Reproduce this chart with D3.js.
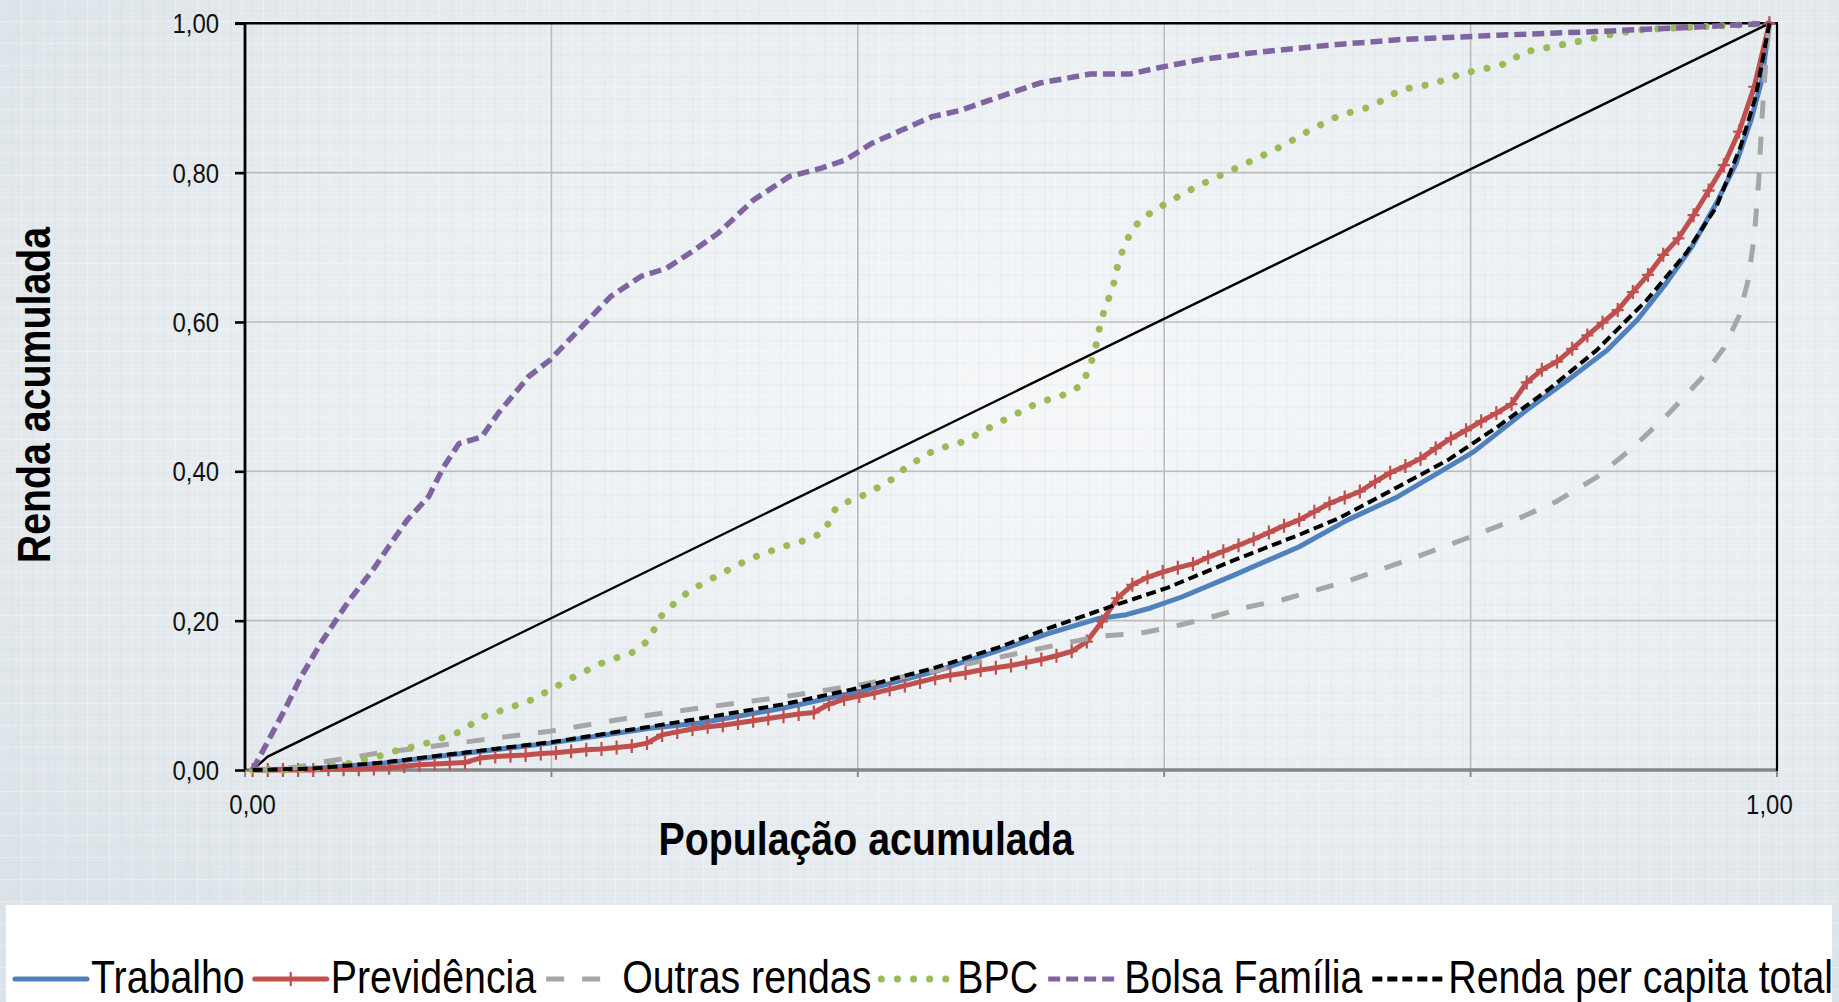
<!DOCTYPE html>
<html><head><meta charset="utf-8">
<script src="https://cdn.jsdelivr.net/npm/d3@7"></script>
<style>html,body{margin:0;padding:0;background:#e4e9ec;overflow:hidden}svg{display:block}</style>
</head><body><svg id="c" width="1839" height="1002"></svg>
<script>
// ---- data (population share, cumulative income share) ----
const seriesNames = ["Trabalho","Previdência","Outras rendas","BPC","Bolsa Família","Renda per capita total"];
const igualdade = [[0,0],[0.01,0.018],[1,1]];
const trabalho = [[0,0],[0.04,0.002],[0.086,0.009],[0.13,0.02],[0.196,0.036],[0.262,0.056],[0.295,0.063],[0.35,0.083],[0.40,0.105],[0.45,0.132],[0.493,0.161],[0.525,0.183],[0.558,0.203],[0.576,0.208],[0.592,0.217],[0.613,0.232],[0.647,0.261],[0.69,0.299],[0.722,0.335],[0.755,0.366],[0.785,0.402],[0.805,0.426],[0.84,0.482],[0.867,0.522],[0.893,0.562],[0.913,0.603],[0.932,0.652],[0.949,0.701],[0.965,0.759],[0.978,0.812],[0.988,0.871],[0.995,0.924],[1,1]];
const previdenciaY = [0,0,0,0,0,0.001,0.001,0.001,0.002,0.003,
  0.005,0.007,0.008,0.009,0.010,0.016,0.018,0.019,0.020,0.022,
  0.023,0.025,0.027,0.028,0.030,0.032,0.036,0.047,0.051,0.055,
  0.058,0.060,0.063,0.066,0.069,0.072,0.075,0.077,0.088,0.095,
  0.099,0.103,0.108,0.113,0.118,0.123,0.127,0.130,0.134,0.137,
  0.140,0.144,0.148,0.153,0.159,0.172,0.199,0.230,0.248,0.258,
  0.265,0.271,0.276,0.285,0.293,0.301,0.309,0.318,0.327,0.335,
  0.346,0.357,0.365,0.373,0.386,0.398,0.407,0.417,0.431,0.444,
  0.455,0.467,0.478,0.490,0.519,0.536,0.547,0.564,0.582,0.599,
  0.616,0.640,0.663,0.690,0.712,0.743,0.776,0.810,0.855,0.915,1.0];
const outras = [[0,0],[0.03,0.004],[0.047,0.011],[0.081,0.022],[0.15,0.040],[0.196,0.052],[0.246,0.069],[0.295,0.083],[0.35,0.098],[0.40,0.114],[0.45,0.133],[0.504,0.156],[0.536,0.170],[0.558,0.179],[0.585,0.183],[0.607,0.192],[0.629,0.203],[0.653,0.217],[0.679,0.228],[0.722,0.253],[0.76,0.280],[0.80,0.310],[0.837,0.339],[0.86,0.360],[0.886,0.392],[0.909,0.430],[0.932,0.474],[0.955,0.524],[0.970,0.565],[0.980,0.608],[0.986,0.656],[0.990,0.714],[0.993,0.790],[0.995,0.870],[0.998,0.960],[1,1]];
const bpc = [[0,0],[0.021,0],[0.042,0.002],[0.064,0.009],[0.084,0.019],[0.095,0.026],[0.115,0.036],[0.135,0.050],[0.153,0.072],[0.173,0.086],[0.184,0.094],[0.194,0.105],[0.212,0.125],[0.231,0.144],[0.251,0.158],[0.260,0.172],[0.265,0.189],[0.270,0.208],[0.278,0.223],[0.288,0.240],[0.308,0.262],[0.328,0.283],[0.348,0.298],[0.368,0.310],[0.377,0.320],[0.385,0.353],[0.405,0.370],[0.423,0.391],[0.431,0.406],[0.450,0.429],[0.469,0.440],[0.489,0.462],[0.517,0.491],[0.537,0.504],[0.547,0.516],[0.551,0.536],[0.555,0.558],[0.558,0.589],[0.562,0.620],[0.566,0.639],[0.569,0.661],[0.571,0.683],[0.575,0.702],[0.579,0.721],[0.586,0.738],[0.595,0.750],[0.604,0.761],[0.622,0.781],[0.642,0.800],[0.661,0.818],[0.680,0.837],[0.698,0.858],[0.717,0.877],[0.737,0.888],[0.757,0.911],[0.778,0.919],[0.798,0.933],[0.819,0.942],[0.829,0.948],[0.837,0.961],[0.857,0.969],[0.880,0.978],[0.900,0.987],[0.919,0.992],[0.952,0.995],[1,1]];
const bolsa = [[0,0],[0.0095,0.036],[0.021,0.080],[0.032,0.125],[0.045,0.170],[0.058,0.210],[0.064,0.228],[0.080,0.270],[0.090,0.300],[0.102,0.335],[0.116,0.366],[0.126,0.406],[0.136,0.437],[0.151,0.446],[0.162,0.478],[0.182,0.527],[0.196,0.549],[0.213,0.585],[0.236,0.634],[0.256,0.661],[0.273,0.672],[0.291,0.696],[0.307,0.719],[0.330,0.763],[0.354,0.795],[0.375,0.806],[0.391,0.817],[0.408,0.839],[0.428,0.857],[0.448,0.875],[0.466,0.883],[0.486,0.897],[0.519,0.920],[0.552,0.932],[0.578,0.932],[0.601,0.942],[0.624,0.951],[0.657,0.960],[0.706,0.970],[0.755,0.978],[0.821,0.984],[0.886,0.989],[0.952,0.995],[1,1]];
const rendaTotal = [[0,0],[0.04,0.002],[0.086,0.010],[0.13,0.021],[0.196,0.037],[0.262,0.058],[0.295,0.069],[0.35,0.088],[0.40,0.110],[0.45,0.137],[0.493,0.165],[0.525,0.190],[0.566,0.219],[0.603,0.244],[0.647,0.281],[0.69,0.315],[0.716,0.337],[0.755,0.379],[0.788,0.415],[0.821,0.46],[0.854,0.509],[0.886,0.562],[0.919,0.629],[0.945,0.692],[0.965,0.754],[0.981,0.835],[0.991,0.902],[0.998,0.978],[1,1]];
const yTicks = [0,0.2,0.4,0.6,0.8,1.0];
const xGridTicks = [0,0.2,0.4,0.6,0.8,1.0];
const xTickLabels = [[0,"0,00"],[1,"1,00"]];

// ---- layout ----
const W = 1839, H = 1002;
const L = 245, R = 1777, T = 23.3, B = 770;
const halfCat = 7.6;
const svg = d3.select("#c");
const defs = svg.append("defs");
const FONT = "'Liberation Sans', Arial, sans-serif";
const NARROW = 0.855;

// background
const rg = defs.append("radialGradient").attr("id","bg").attr("cx","58%").attr("cy","40%").attr("r","75%");
rg.append("stop").attr("offset","0%").attr("stop-color","#f5f7f9");
rg.append("stop").attr("offset","55%").attr("stop-color","#e9eef1");
rg.append("stop").attr("offset","100%").attr("stop-color","#dce3e8");
const pat = defs.append("pattern").attr("id","grid").attr("width",22).attr("height",22).attr("patternUnits","userSpaceOnUse");
pat.append("path").attr("d","M22 0V22M0 22H22").attr("stroke","#ffffff").attr("stroke-opacity",0.4).attr("stroke-width",1.5).attr("fill","none");
pat.append("path").attr("d","M11 0V22M0 11H22").attr("stroke","#c9d1d7").attr("stroke-opacity",0.22).attr("stroke-width",1).attr("fill","none");
svg.append("rect").attr("width",W).attr("height",H).attr("fill","url(#bg)");
svg.append("rect").attr("width",W).attr("height",H).attr("fill","url(#grid)");

// scales
const x = d3.scaleLinear().domain([0,1]).range([L+halfCat, R-halfCat]);
const xg = d3.scaleLinear().domain([0,1]).range([L, R]);
const y = d3.scaleLinear().domain([0,1]).range([B, T]);
const fmt = v => d3.format(".2f")(v).replace(".", ",");

// gridlines
const g = svg.append("g");
g.selectAll(".hg").data(yTicks.filter(d=>d>0 && d<1)).join("line")
  .attr("x1",L).attr("x2",R).attr("y1",d=>y(d)).attr("y2",d=>y(d))
  .attr("stroke","#bcbcbc").attr("stroke-width",1.6);
g.selectAll(".vg").data(xGridTicks.filter(d=>d>0 && d<1)).join("line")
  .attr("x1",d=>xg(d)).attr("x2",d=>xg(d)).attr("y1",T).attr("y2",B)
  .attr("stroke","#bcbcbc").attr("stroke-width",1.6);

// x tick marks
g.selectAll(".xt").data(xGridTicks).join("line")
  .attr("x1",d=>xg(d)).attr("x2",d=>xg(d)).attr("y1",B).attr("y2",B+7)
  .attr("stroke","#8a8a8a").attr("stroke-width",2);

// borders
g.append("line").attr("x1",L).attr("x2",R).attr("y1",B).attr("y2",B).attr("stroke","#868686").attr("stroke-width",3.5);
g.append("line").attr("x1",L-10).attr("x2",R+1).attr("y1",T).attr("y2",T).attr("stroke","#000").attr("stroke-width",2.6);
g.append("line").attr("x1",R).attr("x2",R).attr("y1",T).attr("y2",B+1).attr("stroke","#000").attr("stroke-width",2.2);

// left axis
const yAxis = d3.axisLeft(y).tickValues(yTicks).tickFormat(fmt).tickSize(10).tickPadding(16);
const ya = svg.append("g").attr("transform",`translate(${L},0)`).call(yAxis);
ya.select(".domain").attr("stroke","#000").attr("stroke-width",2.8).attr("d",`M0,${T-1.3}V${B}`);
ya.selectAll(".tick line").attr("stroke","#000").attr("stroke-width",2.6);
ya.selectAll(".tick text").attr("font-family",FONT).attr("font-size",28).attr("fill","#111")
  .attr("x",0).attr("dy",null).attr("dominant-baseline","central")
  .attr("transform",`translate(-26,0) scale(${NARROW},1)`);

// x labels
svg.selectAll(".xl").data(xTickLabels).join("text")
  .attr("transform",d=>`translate(${x(d[0])},${804}) scale(${NARROW},1)`)
  .attr("text-anchor","middle").attr("dominant-baseline","central")
  .attr("font-family",FONT).attr("font-size",28).attr("fill","#111").text(d=>d[1]);

// axis titles
svg.append("text").attr("transform",`translate(866,855) scale(${NARROW},1)`)
  .attr("text-anchor","middle").attr("font-family",FONT).attr("font-weight","bold").attr("font-size",46).attr("fill","#000")
  .text("População acumulada");
svg.append("text").attr("transform",`translate(50,395) rotate(-90) scale(${NARROW},1)`)
  .attr("text-anchor","middle").attr("font-family",FONT).attr("font-weight","bold").attr("font-size",46).attr("fill","#000")
  .text("Renda acumulada");

// series
const line = d3.line().x(d=>x(d[0])).y(d=>y(d[1]));
const previdencia = previdenciaY.map((v,i)=>[i/100, v]);
const styles = [
  {name:seriesNames[0], data:trabalho, color:"#4f81bd", w:5, dash:null, cap:"round"},
  {name:seriesNames[1], data:previdencia, color:"#c0504d", w:5, dash:null, cap:"round", marker:true},
  {name:seriesNames[2], data:outras, color:"#a6a6a6", w:5, dash:"18 18", cap:"butt"},
  {name:seriesNames[3], data:bpc, color:"#9bbb59", w:7, dash:"0.1 16", cap:"round"},
  {name:seriesNames[4], data:bolsa, color:"#8064a2", w:5.5, dash:"12 6", cap:"butt"},
  {name:seriesNames[5], data:rendaTotal, color:"#000000", w:4, dash:"10 5", cap:"butt"}
];
const pg = svg.append("g");
pg.append("path").datum(igualdade).attr("d",line).attr("fill","none").attr("stroke","#000").attr("stroke-width",2.4);
styles.forEach(s=>{
  pg.append("path").datum(s.data).attr("d",line).attr("fill","none")
    .attr("stroke",s.color).attr("stroke-width",s.w).attr("stroke-dasharray",s.dash)
    .attr("stroke-linecap",s.cap).attr("stroke-linejoin","round");
  if(s.marker){
    pg.selectAll(null).data(s.data).join("path")
      .attr("d","M-6,0H6M0,-7V7").attr("transform",d=>`translate(${x(d[0])},${y(d[1])})`)
      .attr("stroke",s.color).attr("stroke-width",2.2);
  }
});

// legend
svg.append("rect").attr("x",6).attr("y",905).attr("width",1826).attr("height",110).attr("fill","#ffffff");
let lx = 15;
const ly = 979;
styles.forEach(s=>{
  const sw = 72;
  svg.append("line").attr("x1",lx).attr("x2",lx+sw).attr("y1",ly).attr("y2",ly)
    .attr("stroke",s.color).attr("stroke-width",s.name==="BPC"?7:5).attr("stroke-dasharray",s.dash)
    .attr("stroke-linecap",s.cap);
  if(s.marker){
    svg.append("path").attr("d","M-6,0H6M0,-7V7").attr("transform",`translate(${lx+sw/2},${ly})`)
      .attr("stroke",s.color).attr("stroke-width",2.2);
  }
  const t = svg.append("text").attr("transform",`translate(${lx+sw+4},993) scale(${NARROW},1)`)
    .attr("font-family",FONT).attr("font-size",46).attr("fill","#000").text(s.name);
  const tw = t.node().getComputedTextLength()*NARROW;
  lx = lx + sw + 4 + tw + 10;
});
</script>
</body></html>
